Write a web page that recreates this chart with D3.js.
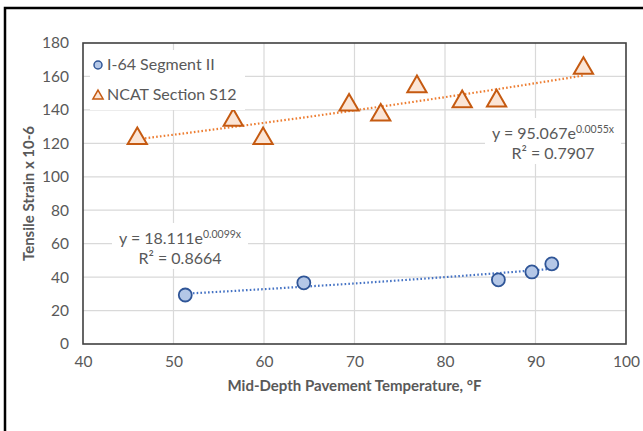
<!DOCTYPE html>
<html>
<head>
    <meta charset="utf-8">
    <title>Tensile strain vs temperature</title>
    <script src="https://d3js.org/d3.v7.min.js"></script>
    <style>
        body { margin: 0; background: #fff; }
        svg { font-family: Lato, 'Open Sans', sans-serif; }
    </style>
</head>
<body>
    <svg id="chart" width="643" height="431"></svg>

    <script>
        // I-64 Segment II
        const i64Temp = [51.3, 64.4, 85.9, 89.6, 91.8];
        const i64Strain = [29.3, 36.6, 38.4, 43.1, 47.9];

        // NCAT Section S12
        const ncatTemp = [46.0, 56.6, 59.9, 69.4, 72.9, 76.9, 81.9, 85.7, 95.3];
        const ncatStrain = [123.5, 134.5, 123.5, 143.5, 137.5, 154.5, 145.5, 146, 165.5];

        // exponential trendlines: y = a * e^(b x)
        const i64Fit = { a: 18.111, b: 0.0099, r2: "0.8664" };
        const ncatFit = { a: 95.067, b: 0.0055, r2: "0.7907" };

        const xTicks = [40, 50, 60, 70, 80, 90, 100];
        const yTicks = [0, 20, 40, 60, 80, 100, 120, 140, 160, 180];

        const plotL = 83, plotR = 626, plotT = 43, plotB = 344;
        const svg = d3.select("#chart");

        // outer frame
        svg.append("path")
            .attr("d", "M5,431 L5,8 L643,8")
            .attr("fill", "none")
            .attr("stroke", "#000")
            .attr("stroke-width", 2.5);

        let x = d3.scaleLinear().domain([40, 100]).range([plotL, plotR]);
        let y = d3.scaleLinear().domain([0, 180]).range([plotB, plotT]);

        // grid
        svg.append("g").selectAll("line").data(xTicks.slice(1, -1)).join("line")
            .attr("x1", d => x(d)).attr("x2", d => x(d))
            .attr("y1", plotT).attr("y2", plotB)
            .attr("stroke", "#d9d9d9").attr("stroke-width", 1.2);
        svg.append("g").selectAll("line").data(yTicks.slice(1, -1)).join("line")
            .attr("x1", plotL).attr("x2", plotR)
            .attr("y1", d => y(d)).attr("y2", d => y(d))
            .attr("stroke", "#d9d9d9").attr("stroke-width", 1.2);

        // axes, labels only
        let xAxis = svg.append("g")
            .attr("transform", `translate(0,${plotB})`)
            .call(d3.axisBottom(x).tickValues(xTicks).tickSize(0).tickPadding(12));
        let yAxis = svg.append("g")
            .attr("transform", `translate(${plotL},0)`)
            .call(d3.axisLeft(y).tickValues(yTicks).tickSize(0).tickPadding(14));
        [xAxis, yAxis].forEach(g => {
            g.select(".domain").remove();
            g.selectAll("text")
                .attr("font-family", "Lato, 'Open Sans', sans-serif")
                .attr("font-size", 15.5)
                .attr("fill", "#595959");
        });

        // trendlines
        function trend(fit, temps) {
            let lo = d3.min(temps), hi = d3.max(temps);
            let pts = d3.range(0, 41).map(i => lo + (hi - lo) * i / 40);
            return d3.line()
                .x(t => x(t))
                .y(t => y(fit.a * Math.exp(fit.b * t)))(pts);
        }
        svg.append("path")
            .attr("d", trend(ncatFit, ncatTemp))
            .attr("fill", "none")
            .attr("stroke", "#ed7d31")
            .attr("stroke-width", 2.2)
            .attr("stroke-dasharray", "1.6,2.2");
        svg.append("path")
            .attr("d", trend(i64Fit, i64Temp))
            .attr("fill", "none")
            .attr("stroke", "#4472c4")
            .attr("stroke-width", 2.2)
            .attr("stroke-dasharray", "1.6,2.2");

        // equation labels
        function eqLabel(fit, cx, cy) {
            let g = svg.append("g");
            g.append("rect")
                .attr("x", cx - 68).attr("y", cy - 21)
                .attr("width", 136).attr("height", 46)
                .attr("fill", "#fff");
            let t1 = g.append("text")
                .attr("x", cx).attr("y", cy)
                .attr("text-anchor", "middle")
                .attr("font-size", 16)
                .attr("fill", "#595959");
            t1.append("tspan").text("y = " + fit.a.toFixed(3) + "e");
            t1.append("tspan").attr("dy", -6).attr("font-size", 10.5).text(fit.b.toFixed(4) + "x");
            g.append("text")
                .attr("x", cx).attr("y", cy + 20)
                .attr("text-anchor", "middle")
                .attr("font-size", 16)
                .attr("fill", "#595959")
                .text("R² = " + fit.r2);
        }
        eqLabel(i64Fit, 180, 244);
        eqLabel(ncatFit, 553, 139);

        // plot border
        svg.append("rect")
            .attr("x", plotL).attr("y", plotT)
            .attr("width", plotR - plotL).attr("height", plotB - plotT)
            .attr("fill", "none")
            .attr("stroke", "#404040")
            .attr("stroke-width", 1.6);

        // markers
        const tri = d3.symbol().type(d3.symbolTriangle).size(160);
        svg.append("g").selectAll("path").data(ncatTemp).join("path")
            .attr("d", tri)
            .attr("transform", (d, i) => `translate(${x(d)},${y(ncatStrain[i]) + 1})`)
            .attr("fill", "#fbe5d6")
            .attr("stroke", "#c55a11")
            .attr("stroke-width", 2);
        svg.append("g").selectAll("circle").data(i64Temp).join("circle")
            .attr("cx", d => x(d))
            .attr("cy", (d, i) => y(i64Strain[i]))
            .attr("r", 6.5)
            .attr("fill", "#b4c7e7")
            .attr("stroke", "#2f5597")
            .attr("stroke-width", 1.8);

        // legend
        let legend = svg.append("g");
        legend.append("rect")
            .attr("x", 90).attr("y", 50).attr("width", 155).attr("height", 60)
            .attr("fill", "#fff");
        legend.append("circle")
            .attr("cx", 98).attr("cy", 65).attr("r", 4)
            .attr("fill", "#b4c7e7").attr("stroke", "#2f5597").attr("stroke-width", 1.5);
        legend.append("path")
            .attr("d", d3.symbol().type(d3.symbolTriangle).size(45))
            .attr("transform", "translate(98,96)")
            .attr("fill", "#fbe5d6").attr("stroke", "#c55a11").attr("stroke-width", 1.5);
        legend.selectAll("text.lab").data(["I-64 Segment II", "NCAT Section S12"]).join("text")
            .attr("class", "lab")
            .attr("x", 107)
            .attr("y", (d, i) => 70 + i * 30)
            .attr("font-size", 16)
            .attr("fill", "#595959")
            .text(d => d);

        // axis titles
        svg.append("text")
            .attr("x", (plotL + plotR) / 2).attr("y", 391)
            .attr("text-anchor", "middle")
            .attr("font-size", 15)
            .attr("font-weight", "bold")
            .attr("fill", "#595959")
            .text("Mid-Depth Pavement Temperature, °F");
        svg.append("text")
            .attr("transform", `translate(34,${(plotT + plotB) / 2}) rotate(-90)`)
            .attr("text-anchor", "middle")
            .attr("font-size", 15)
            .attr("font-weight", "bold")
            .attr("fill", "#595959")
            .text("Tensile Strain x 10-6");
    </script>
</body>
</html>
